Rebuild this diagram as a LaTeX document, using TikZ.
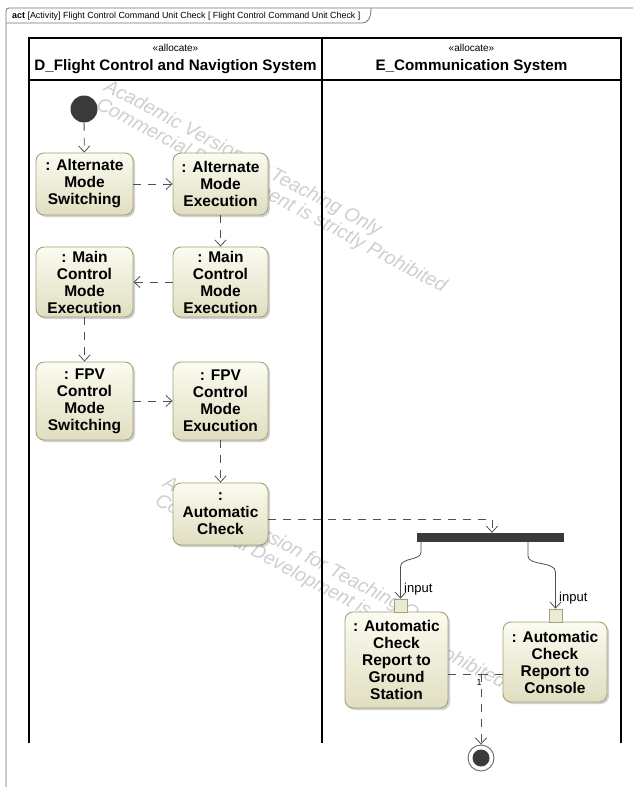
\documentclass[tikz,border=0pt]{standalone}
\usepackage{fontspec}
\setmainfont{Liberation Sans}
\usetikzlibrary{arrows.meta,shadows,calc}
\definecolor{nodetop}{HTML}{FBFBF1}
\definecolor{nodebot}{HTML}{E0DEC0}
\definecolor{nodeline}{HTML}{A3A175}
\definecolor{flowc}{HTML}{505050}
\definecolor{wm}{HTML}{CFCFCF}
\definecolor{darkfill}{HTML}{3A3A3A}
\begin{document}
\begin{tikzpicture}[x=1pt,y=-1pt,
  act/.style={draw=nodeline, line width=0.9pt, rounded corners=8pt,
    top color=nodetop, bottom color=nodebot, align=center,
    font=\bfseries\fontsize{15.5}{17}\selectfont, inner sep=0pt,
    drop shadow={shadow xshift=2pt,shadow yshift=-2pt,fill=black,opacity=0.18}},
  pinbox/.style={draw=nodeline, line width=0.8pt, fill=nodebot!60!nodetop, minimum size=13pt, inner sep=0pt},
  flow/.style={draw=flowc, line width=0.8pt, dash pattern=on 8pt off 7pt,
    -{Straight Barb[length=6pt,width=11pt]}},
  flowplain/.style={draw=flowc, line width=0.8pt, dash pattern=on 8pt off 7pt},
  oflow/.style={draw=flowc, line width=0.8pt, -{Straight Barb[length=6pt,width=11pt]}},
  lane/.style={draw=black, line width=1.5pt},
  frameline/.style={draw=black!55, line width=0.8pt},
  wmtext/.style={text=wm, font=\itshape\fontsize{19.3}{22}\selectfont, inner sep=0pt, rotate=-28},
  stereo/.style={font=\fontsize{10}{12}\selectfont, inner sep=0pt},
  lanename/.style={font=\bfseries\fontsize{15.2}{17}\selectfont, inner sep=0pt},
  lbl/.style={font=\fontsize{13}{15}\selectfont, inner sep=0pt}
]
\useasboundingbox (0,0) rectangle (636,787);
\fill[white] (0,0) rectangle (636,787);

% watermarks
\node[wmtext, anchor=base west] (wm1a) at (103,90) {Academic Version for Teaching Only};
\node[wmtext, anchor=base west] (wm1b) at (95,108) {Commercial Development is strictly Prohibited};
\node[wmtext, anchor=base west] (wm2a) at (162,486) {Academic Version for Teaching Only};
\node[wmtext, anchor=base west] (wm2b) at (154,504) {Commercial Development is strictly Prohibited};

% frame
\draw[frameline, rounded corners=3pt] (6,787) -- (6,8) -- (633,8);
\draw[frameline] (6,23) -- (362,23) .. controls (368,23) and (371,18) .. (371,8);
\node[anchor=base west, inner sep=0pt, font=\fontsize{8.9}{11}\selectfont] (title) at (12,19)
  {\textbf{act} [Activity] Flight Control Command Unit Check [ Flight Control Command Unit Check ]};

% swimlanes
\draw[lane] (29,743) -- (29,38) -- (621,38) -- (621,743);
\draw[lane] (322,38) -- (322,743);
\draw[lane] (29,80) -- (621,80);
\node[stereo] (st1) at (175.5,48) {«allocate»};
\node[lanename] (ln1) at (175.5,67) {D\_Flight Control and Navigtion System};
\node[stereo] (st2) at (471.5,48) {«allocate»};
\node[lanename] (ln2) at (471.5,67) {E\_Communication System};

% nodes
\node[circle, fill=darkfill, minimum size=27pt, inner sep=0pt] (init) at (84,109) {};
\node[act, minimum width=97pt, minimum height=62pt] (n1) at (84.5,184) {: Alternate\\Mode\\Switching};
\node[act, minimum width=95pt, minimum height=62pt] (n2) at (220.5,184) {: Alternate\\Mode\\Execution};
\node[act, minimum width=97pt, minimum height=70pt] (n3) at (84.5,282) {: Main\\Control\\Mode\\Execution};
\node[act, minimum width=95pt, minimum height=70pt] (n4) at (220.5,282) {: Main\\Control\\Mode\\Execution};
\node[act, minimum width=97pt, minimum height=78pt] (n5) at (84.5,401) {: FPV\\Control\\Mode\\Switching};
\node[act, minimum width=95pt, minimum height=78pt] (n6) at (220.5,401) {: FPV\\Control\\Mode\\Exucution};
\node[act, minimum width=95pt, minimum height=62pt] (n7) at (220.5,514) {:\\Automatic\\Check};
\node[fill=darkfill, minimum width=147pt, minimum height=9pt, inner sep=0pt] (fork) at (490.5,537.5) {};
\node[act, minimum width=103pt, minimum height=96pt] (n8) at (396.5,660) {: Automatic\\Check\\Report to\\Ground\\Station};
\node[act, minimum width=104pt, minimum height=80pt] (n9) at (555,662) {: Automatic\\Check\\Report to\\Console};
\node[pinbox] (p8) at (400.5,605.5) {};
\node[pinbox] (p9) at (555.5,615.5) {};
\node[circle, draw=black!60, line width=0.9pt, fill=white, minimum size=26pt, inner sep=0pt] (fin) at (481,758) {};
\node[circle, fill=darkfill, minimum size=17pt, inner sep=0pt] (finin) at (fin) {};

% control flows
\draw[flow] (init) -- (n1);
\draw[flow] (n1) -- (n2);
\draw[flow] (n2) -- (n4);
\draw[flow] (n4) -- (n3);
\draw[flow] (n3) -- (n5);
\draw[flow] (n5) -- (n6);
\draw[flow] (n6) -- (n7);
\coordinate (j1) at (492,519);
\draw[flow] (n7.east |- j1) -- (j1) -- (j1 |- fork.north);

% object flows
\coordinate (a1) at (421,542);
\coordinate (b1) at (528,542);
\draw[oflow] (a1) -- (421,552) .. controls (421,561) and (400.5,557) .. (400.5,567) -- (p8.north);
\draw[oflow] (b1) -- (528,556) .. controls (528,566) and (555.5,561) .. (555.5,572) -- (p9.north);
\node[lbl, anchor=west] (in1) at (404,589) {input};
\node[lbl, anchor=west] (in2) at (559,598) {input};

% join to final
\coordinate (m) at (481,674);
\draw[flowplain] (n8.east |- m) -- (m);
\draw[flowplain] (n9.west |- m) -- (m);
\draw[flow] (m) -- (fin);
\node[font=\fontsize{9}{10}\selectfont, inner sep=0pt] (one) at (479,682) {1};
\end{tikzpicture}
\end{document}
